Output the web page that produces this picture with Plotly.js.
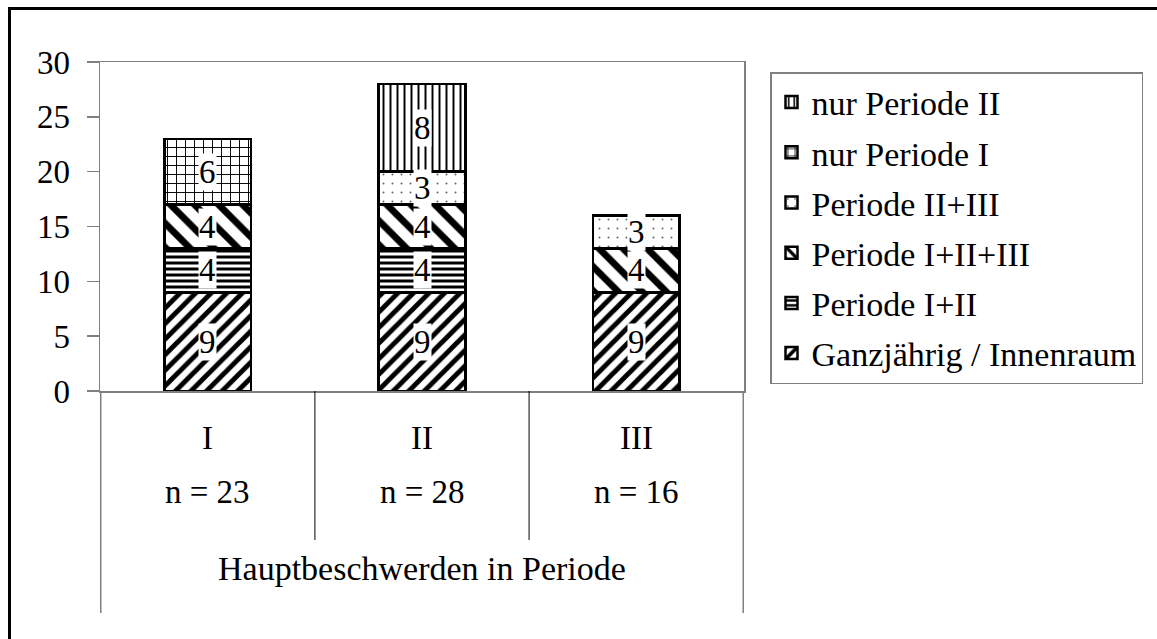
<!DOCTYPE html>
<html>
<head>
<meta charset="utf-8">
<script src="https://cdn.plot.ly/plotly-3.0.1.min.js"></script>
<style>
  html, body { margin: 0; padding: 0; background: #ffffff; }
  #chart { width: 1157px; height: 639px; }
</style>
</head>
<body>
<div id="chart"></div>
<script>
// ---- data ----
const categories = ["I", "II", "III"];
const groupLabel = "Hauptbeschwerden in Periode";
const seriesNames = [
  "Ganzjährig / Innenraum",
  "Periode I+II",
  "Periode I+II+III",
  "Periode II+III",
  "nur Periode I",
  "nur Periode II"
];
const ganzjaehrig = [9, 9, 9];
const periodeI_II = [4, 4, 0];
const periodeI_II_III = [4, 4, 4];
const periodeII_III = [0, 3, 3];
const nurPeriodeI = [6, 0, 0];
const nurPeriodeII = [0, 8, 0];
const seriesValues = [ganzjaehrig, periodeI_II, periodeI_II_III, periodeII_III, nurPeriodeI, nurPeriodeII];
const yTicks = [0, 5, 10, 15, 20, 25, 30];

// ---- styling ----
const FONT = "Liberation Serif, Times New Roman, serif";
const FS = 33;
const patterns = [
  {shape: "/", size: 11, solidity: 0.45, fgcolor: "#000000"},
  {shape: "-", size: 6, solidity: 0.5, fgcolor: "#000000"},
  {shape: "\\", size: 17, solidity: 0.4, fgcolor: "#000000"},
  {shape: ".", size: 9, solidity: 0.04, fgcolor: "#666666"},
  {shape: "+", size: 9, solidity: 0.2, fgcolor: "#000000"},
  {shape: "|", size: 7, solidity: 0.28, fgcolor: "#000000"}
];

const W = 1157, H = 639;
const M = {l: 100, r: 1157 - 744, t: 62, b: 639 - 391};
const PW = W - M.l - M.r, PH = H - M.t - M.b;
const px2x = px => (px - M.l) / PW;
const py2y = py => (H - M.b - py) / PH;

const traces = seriesValues.map((vals, i) => ({
  type: "bar",
  name: seriesNames[i],
  x: categories,
  y: vals,
  legendgroup: "g" + i,
  legendrank: 100 - i,
  marker: {
    color: "#ffffff",
    line: {color: "#000000", width: 2.5},
    pattern: Object.assign({bgcolor: "#ffffff", fillmode: "replace"}, patterns[i])
  },
  hoverinfo: "name+y"
}));

// value labels (white boxes) in the centre of each segment
const annotations = [];
categories.forEach((c, ci) => {
  let base = 0;
  seriesValues.forEach(vals => {
    const v = vals[ci];
    if (v > 0) {
      annotations.push({
        x: c, y: base + v / 2, xref: "x", yref: "y",
        xanchor: "center", yanchor: "middle",
        text: String(v), showarrow: false,
        bgcolor: "#ffffff", borderpad: 0,
        font: {family: FONT, size: FS, color: "#000000"}
      });
    }
    base += v;
  });
  const total = seriesValues.reduce((s, vals) => s + vals[ci], 0);
  annotations.push({
    x: c, y: py2y(438), xref: "x", yref: "paper", xanchor: "center", yanchor: "middle",
    text: c, showarrow: false,
    font: {family: FONT, size: FS, color: "#000000"}
  });
  annotations.push({
    x: c, y: py2y(492), xref: "x", yref: "paper", xanchor: "center", yanchor: "middle",
    text: "n = " + total, showarrow: false,
    font: {family: FONT, size: FS, color: "#000000"}
  });
});
annotations.push({
  x: 0.5, y: py2y(568), xref: "paper", yref: "paper", xanchor: "center", yanchor: "middle",
  text: groupLabel, showarrow: false,
  font: {family: FONT, size: 34, color: "#000000"}
});

// divider lines under the axis + outer frame
const shapes = [];
[-0.5, 2.5].forEach(xv => shapes.push({
  type: "line", xref: "x", yref: "paper", x0: xv, x1: xv, y0: 0, y1: py2y(613),
  line: {color: "#808080", width: 1.5}
}));
[0.5, 1.5].forEach(xv => shapes.push({
  type: "line", xref: "x", yref: "paper", x0: xv, x1: xv, y0: 0, y1: py2y(540),
  line: {color: "#000000", width: 1}
}));
shapes.push({
  type: "rect", xref: "paper", yref: "paper",
  x0: px2x(9.5), x1: px2x(1165), y0: py2y(8.5), y1: py2y(650),
  line: {color: "#000000", width: 3}, fillcolor: "rgba(0,0,0,0)", layer: "below"
});

const layout = {
  width: W, height: H,
  margin: M,
  paper_bgcolor: "#ffffff",
  plot_bgcolor: "#ffffff",
  barmode: "stack",
  bargap: 0.595,
  font: {family: FONT, size: FS, color: "#000000"},
  showlegend: true,
  legend: {
    x: px2x(770), y: py2y(72), xanchor: "left", yanchor: "top",
    xref: "paper", yref: "paper",
    bgcolor: "#ffffff", bordercolor: "#808080", borderwidth: 1.5,
    traceorder: "grouped", tracegroupgap: 3,
    font: {family: FONT, size: 34, color: "#000000"}
  },
  xaxis: {
    type: "category", categoryarray: categories, categoryorder: "array",
    showticklabels: false, ticks: "",
    showline: true, linecolor: "#808080", linewidth: 1.5, mirror: true,
    showgrid: false, zeroline: false, fixedrange: true
  },
  yaxis: {
    range: [0, 30], tickvals: yTicks, ticktext: yTicks.map(String),
    ticks: "outside", ticklen: 12, tickcolor: "#808080", tickwidth: 1.5,
    ticklabelstandoff: 10,
    showline: true, linecolor: "#808080", linewidth: 1.5, mirror: true,
    showgrid: false, zeroline: false, fixedrange: true,
    tickfont: {family: FONT, size: FS, color: "#000000"}
  },
  annotations: annotations,
  shapes: shapes
};

Plotly.newPlot("chart", traces, layout, {displayModeBar: false, staticPlot: true});
</script>
</body>
</html>
